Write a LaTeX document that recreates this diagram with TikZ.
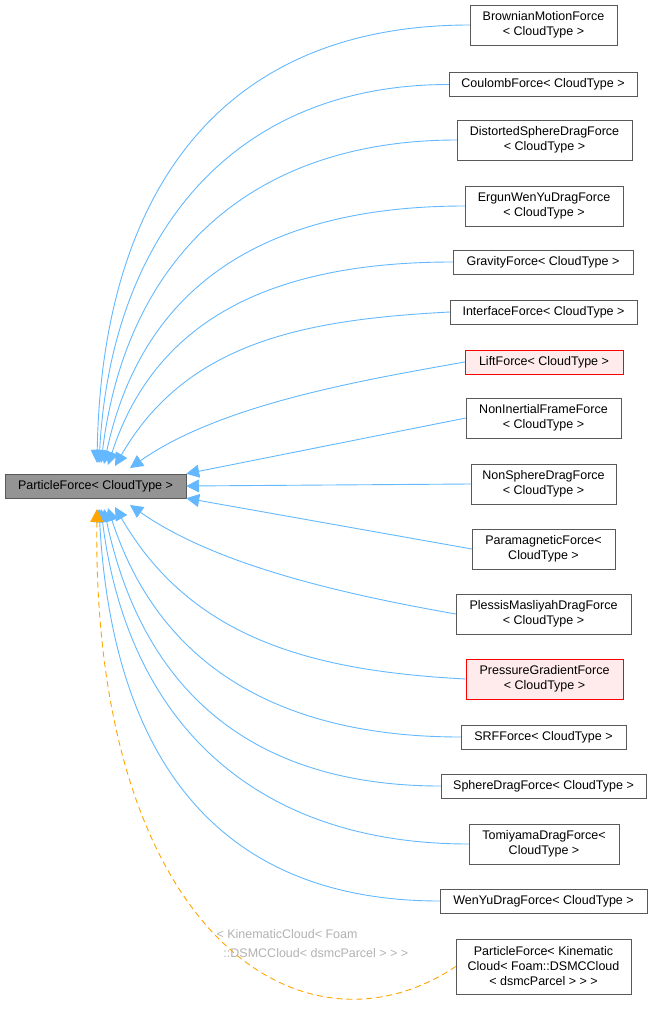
\documentclass[tikz,border=0pt]{standalone}
\usepackage{fontspec}
\setmainfont{Liberation Sans}
\usetikzlibrary{arrows.meta}
\definecolor{edgeblue}{HTML}{63B8FF}
\definecolor{edgeorange}{HTML}{FFA500}
\tikzset{
  cls/.style={draw=black!65,fill=white,align=center,font=\fontsize{12.5}{15}\selectfont,inner sep=0pt,minimum height=24pt},
  red cls/.style={cls,draw=red,fill=red!8},
  edge/.style={edgeblue,-{Triangle[length=13pt,width=13pt]},line width=0.9pt},
}
\begin{document}
\begin{tikzpicture}[x=1pt,y=-1pt]
\useasboundingbox (0,0) rectangle (652,1014);
% base class
\node[cls,fill=black!42,minimum width=181pt] (pf) at (95.5,486) {ParticleForce< CloudType >};
% derived classes
\node[cls,minimum width=147pt,minimum height=40pt] (c1) at (543.5,25) {BrownianMotionForce\\< CloudType >};
\node[cls,minimum width=188pt] (c2) at (543,84.5) {CoulombForce< CloudType >};
\node[cls,minimum width=175pt,minimum height=40pt] (c3) at (544.5,140) {DistortedSphereDragForce\\< CloudType >};
\node[cls,minimum width=158pt,minimum height=40pt] (c4) at (544,206) {ErgunWenYuDragForce\\< CloudType >};
\node[cls,minimum width=180pt] (c5) at (543,262) {GravityForce< CloudType >};
\node[cls,minimum width=187pt] (c6) at (543.5,312) {InterfaceForce< CloudType >};
\node[red cls,minimum width=158pt] (c7) at (544,362) {LiftForce< CloudType >};
\node[cls,minimum width=155pt,minimum height=40pt] (c8) at (543.5,418) {NonInertialFrameForce\\< CloudType >};
\node[cls,minimum width=145pt,minimum height=40pt] (c9) at (543.5,484) {NonSphereDragForce\\< CloudType >};
\node[cls,minimum width=143pt,minimum height=40pt] (c10) at (543.5,549) {ParamagneticForce<\\CloudType >};
\node[cls,minimum width=175pt,minimum height=40pt] (c11) at (543.5,614) {PlessisMasliyahDragForce\\< CloudType >};
\node[red cls,minimum width=157pt,minimum height=40pt] (c12) at (544.5,679) {PressureGradientForce\\< CloudType >};
\node[cls,minimum width=165pt] (c13) at (543.5,737) {SRFForce< CloudType >};
\node[cls,minimum width=205pt] (c14) at (543.5,786) {SphereDragForce< CloudType >};
\node[cls,minimum width=150pt,minimum height=40pt] (c15) at (544,844) {TomiyamaDragForce<\\CloudType >};
\node[cls,minimum width=207pt] (c16) at (543.5,901) {WenYuDragForce< CloudType >};
\node[cls,minimum width=175pt,minimum height=55pt] (c17) at (543.5,966.5) {ParticleForce< Kinematic\\Cloud< Foam::DSMCCloud\\< dsmcParcel > > >};
% inheritance edges
\coordinate (t1) at (97,463);
\coordinate (t2) at (99,463);
\coordinate (t3) at (101,463);
\coordinate (t4) at (104,464);
\coordinate (t5) at (108,465);
\coordinate (t6) at (115,466);
\coordinate (t7) at (130,468);
\coordinate (t11) at (130,505);
\coordinate (t12) at (115,507);
\coordinate (t13) at (108,508);
\coordinate (t14) at (104,509);
\coordinate (t15) at (101,509);
\coordinate (t16) at (99,509);
\draw[edge] (c1.west) to[out=180,in=89,looseness=1.15] (t1);
\draw[edge] (c2.west) to[out=180,in=87,looseness=1.1] (t2);
\draw[edge] (c3.west) to[out=180,in=83,looseness=1.1] (t3);
\draw[edge] (c4.west) to[out=180,in=78,looseness=1.1] (t4);
\draw[edge] (c5.west) to[out=180,in=72,looseness=1.05] (t5);
\draw[edge] (c6.west) to[out=183,in=60] (t6);
\draw[edge] (c7.west) to[out=190,in=35,looseness=0.8] (t7);
\draw[edge] (c8.west) -- (pf.north east);
\draw[edge] (c9.west) -- (pf.east);
\draw[edge] (c10.west) -- (pf.south east);
\draw[edge] (c11.west) to[out=170,in=-35,looseness=0.8] (t11);
\draw[edge] (c12.west) to[out=177,in=-60] (t12);
\draw[edge] (c13.west) to[out=180,in=-72,looseness=1.05] (t13);
\draw[edge] (c14.west) to[out=180,in=-78,looseness=1.1] (t14);
\draw[edge] (c15.west) to[out=180,in=-83,looseness=1.1] (t15);
\draw[edge] (c16.west) to[out=180,in=-87,looseness=1.15] (t16);
% template instance
\coordinate (t17) at (97,509);
\draw[edge,edgeorange,dash pattern=on 6pt off 4pt] (c17.west) .. controls (300,1070) and (92,930) .. (t17);
\node[font=\fontsize{12.5}{19}\selectfont,text=black!30,align=left,anchor=north west] (lbl) at (213,926) {< KinematicCloud< Foam\\\ \ ::DSMCCloud< dsmcParcel > > >};
\end{tikzpicture}
\end{document}
